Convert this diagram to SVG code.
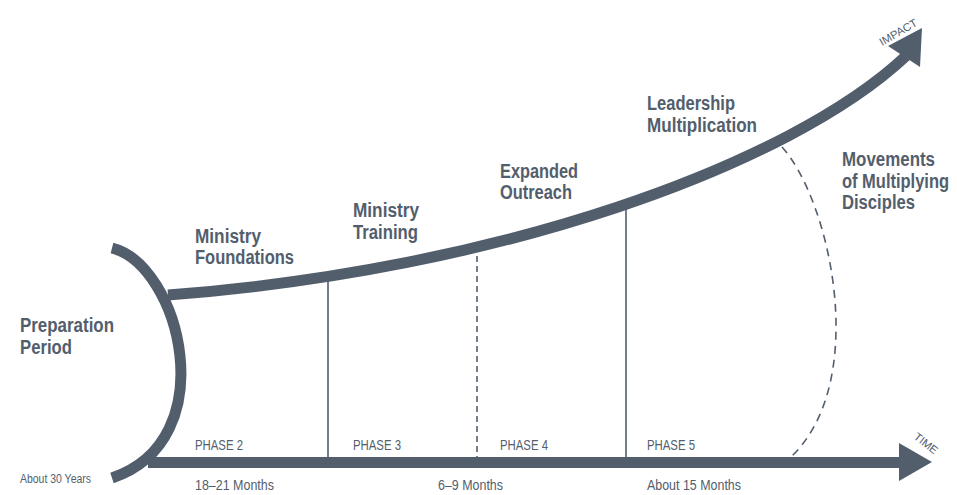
<svg xmlns="http://www.w3.org/2000/svg" width="957" height="495" viewBox="0 0 957 495">
<style>
.thick{fill:none;stroke:#535e6d;stroke-width:11}
.thin{fill:none;stroke:#535e6d;stroke-width:1.6}
.dash{fill:none;stroke:#535e6d;stroke-width:1.6;stroke-dasharray:6 4}
.head{fill:#535e6d}
.lbl{font-family:"Liberation Sans",Arial,sans-serif;font-weight:bold;font-size:20px;fill:#535e6d}
.sm{font-family:"Liberation Sans",Arial,sans-serif;font-size:14px;fill:#535e6d}
</style>
<rect width="957" height="495" fill="#ffffff"/>
<g id="connectors">
  <path class="thick" d="M112,248 C180,265 225,440 112,478"/>
  <path class="thick" d="M168,295 C500,270 790,165 906,56"/>
  <polygon class="head" points="922,28 888,46 920,67"/>
  <path class="thick" d="M148,462.5 L902,462.5"/>
  <polygon class="head" points="932,462 899,443 899,481"/>
  <line class="thin" x1="328" y1="276" x2="328" y2="463"/>
  <line class="dash" x1="477" y1="256" x2="477" y2="463"/>
  <line class="thin" x1="626" y1="203" x2="626" y2="458"/>
  <path class="dash" style="stroke-dasharray:8 6" d="M782,147 C830,200 870,380 792,456"/>
</g>
<g id="preparation">
  <text class="lbl" x="20" y="332" textLength="94" lengthAdjust="spacingAndGlyphs">Preparation</text>
  <text class="lbl" x="20" y="354" textLength="52" lengthAdjust="spacingAndGlyphs">Period</text>
  <text class="sm" x="20" y="483" style="font-size:12px" textLength="71" lengthAdjust="spacingAndGlyphs">About 30 Years</text>
</g>
<g id="phase2">
  <text class="lbl" x="195" y="243" textLength="66" lengthAdjust="spacingAndGlyphs">Ministry</text>
  <text class="lbl" x="195" y="264" textLength="99" lengthAdjust="spacingAndGlyphs">Foundations</text>
  <text class="sm" x="195" y="450" textLength="48" lengthAdjust="spacingAndGlyphs">PHASE 2</text>
  <text class="sm" x="195" y="490" textLength="79" lengthAdjust="spacingAndGlyphs">18–21 Months</text>
</g>
<g id="phase3">
  <text class="lbl" x="353" y="217" textLength="66" lengthAdjust="spacingAndGlyphs">Ministry</text>
  <text class="lbl" x="353" y="239" textLength="65" lengthAdjust="spacingAndGlyphs">Training</text>
  <text class="sm" x="353" y="450" textLength="48" lengthAdjust="spacingAndGlyphs">PHASE 3</text>
  <text class="sm" x="438" y="490" textLength="65" lengthAdjust="spacingAndGlyphs">6–9 Months</text>
</g>
<g id="phase4">
  <text class="lbl" x="500" y="178" textLength="78" lengthAdjust="spacingAndGlyphs">Expanded</text>
  <text class="lbl" x="500" y="199" textLength="72" lengthAdjust="spacingAndGlyphs">Outreach</text>
  <text class="sm" x="500" y="450" textLength="48" lengthAdjust="spacingAndGlyphs">PHASE 4</text>
</g>
<g id="phase5">
  <text class="lbl" x="647" y="110" textLength="88" lengthAdjust="spacingAndGlyphs">Leadership</text>
  <text class="lbl" x="647" y="132" textLength="110" lengthAdjust="spacingAndGlyphs">Multiplication</text>
  <text class="sm" x="647" y="450" textLength="48" lengthAdjust="spacingAndGlyphs">PHASE 5</text>
  <text class="sm" x="647" y="490" textLength="94" lengthAdjust="spacingAndGlyphs">About 15 Months</text>
</g>
<g id="movements">
  <text class="lbl" x="842" y="166" textLength="93" lengthAdjust="spacingAndGlyphs">Movements</text>
  <text class="lbl" x="842" y="188" textLength="107" lengthAdjust="spacingAndGlyphs">of Multiplying</text>
  <text class="lbl" x="842" y="209" textLength="73" lengthAdjust="spacingAndGlyphs">Disciples</text>
</g>
<g id="axes">
  <text class="sm" style="font-size:11px" transform="translate(882,46) rotate(-30)" textLength="42" lengthAdjust="spacingAndGlyphs">IMPACT</text>
  <text class="sm" style="font-size:11px" transform="translate(913,438) rotate(38)" textLength="27" lengthAdjust="spacingAndGlyphs">TIME</text>
</g>
</svg>
